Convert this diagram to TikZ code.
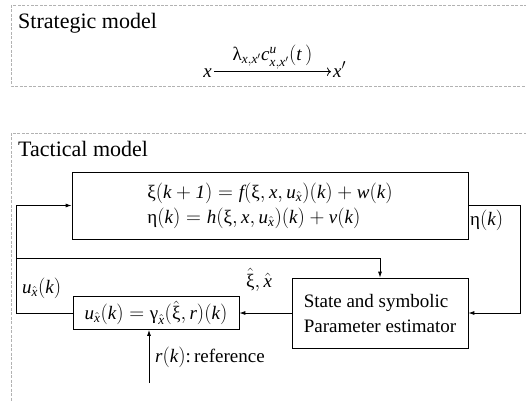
\documentclass[tikz,border=0pt]{standalone}
\usepackage{amsmath}
\usepackage{fontspec}
\setmainfont{Liberation Serif}
\usetikzlibrary{arrows.meta, positioning, calc}

\newcommand{\iv}[1]{\text{\itshape #1}}
\newcommand{\gk}[1]{\text{#1}}
\newcommand{\ux}{\iv{u}_{\hat{\iv{x}}}}

\tikzset{
  frame/.style={draw=gray!60, dash pattern=on 3pt off 1.5pt, line width=0.6pt},
  blk/.style={draw, line width=0.8pt, inner sep=0pt},
  sig/.style={line width=0.8pt, -{Latex[length=6pt,width=4pt]}},
  lbl/.style={font=\fontsize{19bp}{25bp}\selectfont, inner sep=0pt},
  ttl/.style={font=\fontsize{22bp}{25bp}\selectfont, inner sep=0pt, anchor=base west},
}

\begin{document}
\begin{tikzpicture}[x=1bp, y=-1bp]
  \useasboundingbox (0,0) rectangle (526,401);

  % model frames
  \draw[frame] (11,5) rectangle (540,86);
  \draw[frame] (11,133) rectangle (540,420);
  \node[ttl] (strat) at (18,28) {Strategic model};
  \node[ttl] (tact) at (18,156) {Tactical model};

  % strategic transition
  \node[lbl, anchor=base east] (x0) at (212,77) {$\iv{x}$};
  \node[lbl, anchor=base west] (x1) at (333,77) {$\iv{x}'$};
  \draw[line width=0.8pt, -{To[length=4pt]}] ($(x0.east)+(2,-1)$) -- ($(x0.east -| x1.west)+(-2,-1)$)
    node[midway, above=2bp, lbl] {$\gk{λ}_{\iv{x},\iv{x}'}\iv{c}^{\iv{u}}_{\iv{x},\iv{x}'}(\iv{t}\,)$};

  % blocks
  \node[blk, lbl, align=left, minimum width=396bp, minimum height=67bp] (plant) at (270,205.5)
    {$\gk{ξ}(\iv{k}+\iv{1}) = \iv{f}(\gk{ξ},\iv{x},\ux)(\iv{k})+\iv{w}(\iv{k})$\\
     $\gk{η}(\iv{k}) = \iv{h}(\gk{ξ},\iv{x},\ux)(\iv{k})+\iv{v}(\iv{k})$};
  \node[blk, lbl, align=left, minimum width=176bp, minimum height=70bp] (est) at (380,313)
    {State and symbolic\\Parameter estimator};
  \node[blk, lbl, minimum width=166bp, minimum height=33bp] (ctrl) at (156,313)
    {$\ux(\iv{k}) = \gk{γ}_{\hat{\iv{x}}}(\hat{\gk{ξ}},\iv{r})(\iv{k})$};

  % signal points
  \coordinate (lft) at (16,313);
  \coordinate (br) at (16,258);
  \coordinate (rt) at (520,205.5);
  \coordinate (rin) at (149,383);

  % connectors
  \draw[sig] (est.west) -- (ctrl.east);
  \draw[sig] (ctrl.west) -- (lft) |- (plant.west);
  \draw[sig] (br) -| (est.north);
  \draw[sig] (plant.east) -- (rt) |- (est.east);
  \draw[sig] (rin) -- (rin |- ctrl.south);

  % labels
  \node[lbl, anchor=north west] (eta) at (470,210) {$\gk{η}(\iv{k})$};
  \node[lbl, anchor=base west] (uout) at (22,293) {$\ux(\iv{k})$};
  \node[lbl, anchor=base west] (est out) at (246,287) {$\hat{\gk{ξ}},\hat{\iv{x}}$};
  \node[lbl, anchor=base west] (ref) at (155,362) {$\iv{r}(\iv{k})$:\,reference};
\end{tikzpicture}
\end{document}
